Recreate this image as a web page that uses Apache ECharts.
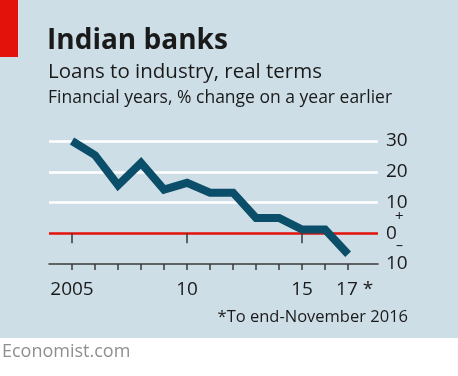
<!DOCTYPE html>
<html>
<head>
<meta charset="utf-8">
<script src="https://cdn.jsdelivr.net/npm/echarts@6/dist/echarts.min.js"></script>
<style>
  html, body { margin: 0; padding: 0; background: #fff; }
  #chart { width: 458px; height: 376px; }
</style>
</head>
<body>
<div id="chart"></div>
<script>
// financial years and real loan growth, % on a year earlier
const years = [2005, 2006, 2007, 2008, 2009, 2010, 2011, 2012, 2013, 2014, 2015, 2016, 2017];
const growth = [30, 25.4, 15.6, 22.9, 14.2, 16.4, 13.2, 13.2, 5.0, 5.0, 1.2, 1.2, -6.8];
const xLabelYears = [2005, 2010, 2015, 2017];
const majorTickYears = [2005, 2010, 2015];
const yTicks = [-10, 0, 10, 20, 30];

const font = 'Open Sans';
const ink = '#1a1a1a';

const myChart = echarts.init(document.getElementById('chart'));

const option = {
  animation: false,
  backgroundColor: '#fff',
  graphic: [
    { type: 'rect', z: -10, shape: { x: 0, y: 0, width: 458, height: 338 }, style: { fill: '#cddee7' } },
    { type: 'rect', shape: { x: 0, y: 0, width: 18, height: 57 }, style: { fill: '#e3120b' } },
    { type: 'text', left: 47, top: 27, style: { text: 'Indian banks', font: 'bold 28px ' + font, fill: ink } },
    { type: 'text', left: 48, top: 62, style: { text: 'Loans to industry, real terms', font: '20.5px ' + font, fill: ink } },
    { type: 'text', left: 48, top: 89, style: { text: 'Financial years, % change on a year earlier', font: '17.5px ' + font, fill: ink } },
    { type: 'text', left: 395, top: 209, style: { text: '+', font: '15px ' + font, fill: ink } },
    { type: 'text', left: 396, top: 239, style: { text: '\u2013', font: '14px ' + font, fill: ink } },
    { type: 'text', right: 50, top: 309, style: { text: '*To end-November 2016', font: '16.5px ' + font, fill: ink } },
    { type: 'text', left: 2, top: 343, style: { text: 'Economist.com', font: '18px ' + font, fill: '#8f8f8f' } }
  ],
  grid: { left: 49, right: 80, top: 141, bottom: 112 },
  xAxis: [
    {
      type: 'value',
      min: 2004,
      max: 2018.3,
      splitLine: { show: false },
      axisLine: { show: true, onZero: false, lineStyle: { color: '#3a3a3a', width: 1.5 } },
      axisTick: { show: true, length: 6, customValues: years, lineStyle: { color: '#3a3a3a', width: 1.5 } },
      axisLabel: {
        customValues: xLabelYears,
        margin: 16,
        color: ink,
        fontFamily: font,
        fontSize: 19,
        formatter: function (v) {
          if (v === 2005) return '2005';
          if (v === 2017) return '{s|17 *}';
          return String(v % 100);
        },
        rich: { s: { fontFamily: font, fontSize: 19, color: ink, padding: [0, 0, 0, 13] } }
      }
    },
    {
      type: 'value',
      position: 'bottom',
      min: 2004,
      max: 2018.3,
      splitLine: { show: false },
      axisLine: { show: false },
      axisTick: { show: true, length: 10, customValues: majorTickYears, lineStyle: { color: '#3a3a3a', width: 1.5 } },
      axisLabel: { show: false }
    }
  ],
  yAxis: {
    type: 'value',
    position: 'right',
    min: -10,
    max: 30,
    interval: 10,
    axisLine: { show: false },
    axisTick: { show: false },
    axisLabel: {
      margin: 8,
      color: ink,
      fontFamily: font,
      fontSize: 19,
      formatter: function (v) { return String(Math.abs(v)); }
    },
    splitLine: {
      lineStyle: { color: ['transparent', '#e3120b', '#ffffff', '#ffffff', '#ffffff'], width: 2.5 }
    }
  },
  series: [
    {
      type: 'line',
      data: years.map((y, i) => [y, growth[i]]),
      symbol: 'none',
      lineStyle: { color: '#0b4e69', width: 8, join: 'miter', cap: 'butt' },
      z: 5
    }
  ]
};

myChart.setOption(option);
window.onresize = () => { myChart.resize(); };
</script>
</body>
</html>
